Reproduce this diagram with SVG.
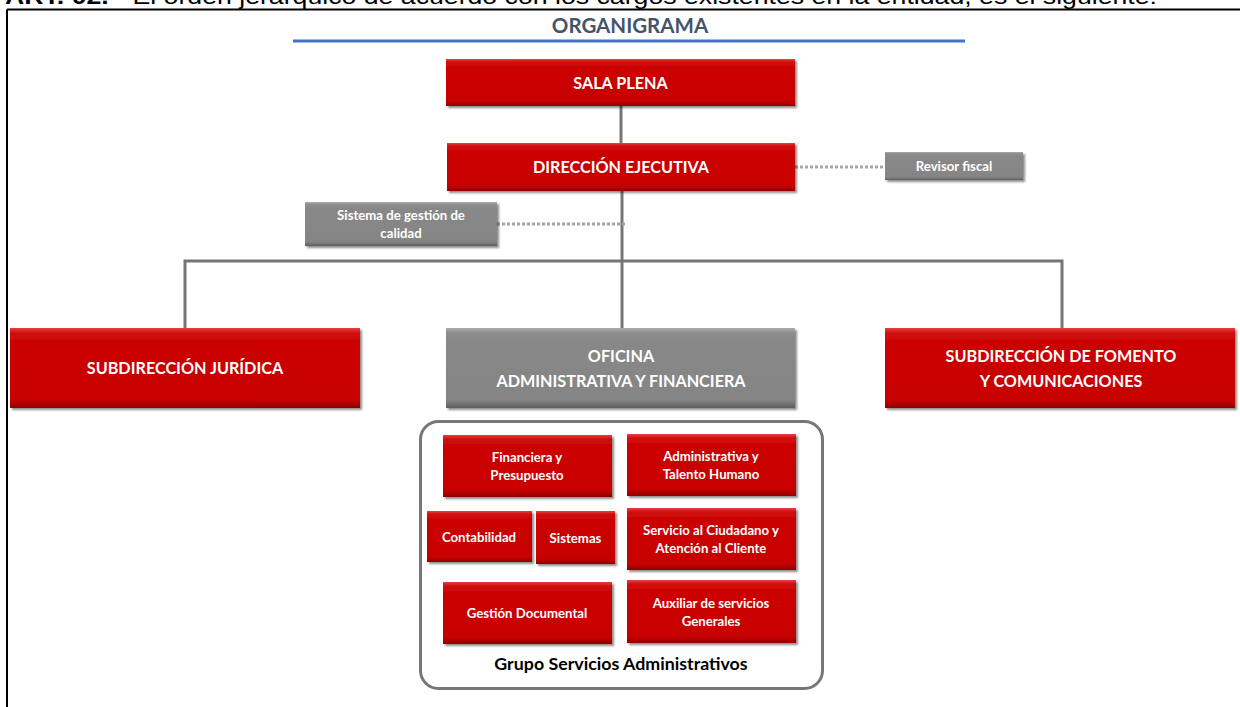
<svg xmlns="http://www.w3.org/2000/svg" width="1240" height="707" viewBox="0 0 1240 707">
<defs>
<linearGradient id="gRed" x1="0" y1="0" x2="0" y2="1">
<stop offset="0" stop-color="#E94040"/>
<stop offset="0.06" stop-color="#D01010"/>
<stop offset="0.15" stop-color="#CC0606"/>
<stop offset="0.9" stop-color="#C70505"/>
<stop offset="1" stop-color="#8E0000"/>
</linearGradient>
<linearGradient id="gGray" x1="0" y1="0" x2="0" y2="1">
<stop offset="0" stop-color="#ABABAB"/>
<stop offset="0.06" stop-color="#8E8E8E"/>
<stop offset="0.15" stop-color="#888888"/>
<stop offset="0.9" stop-color="#858585"/>
<stop offset="1" stop-color="#5E5E5E"/>
</linearGradient>
<filter id="sh" x="-5%" y="-10%" width="110%" height="130%">
<feGaussianBlur in="SourceAlpha" stdDeviation="1"/>
<feOffset dx="1.5" dy="1.5" result="b"/>
<feFlood flood-color="#000" flood-opacity="0.45"/>
<feComposite in2="b" operator="in"/>
<feMerge><feMergeNode/><feMergeNode in="SourceGraphic"/></feMerge>
</filter>
</defs>
<style>
.red{fill:url(#gRed);filter:url(#sh)}
.gray{fill:url(#gGray);filter:url(#sh)}
.t{font-family:Lato,"Open Sans","Liberation Sans",sans-serif;font-weight:bold;fill:#fff;text-anchor:middle}
.big{font-size:16.2px}
.sm{font-size:13.2px}
.ln{stroke:#767676;stroke-width:3;fill:none}
.dot{stroke:#A6A6A6;stroke-width:3;stroke-dasharray:3 2;fill:none}
</style>
<rect width="1240" height="707" fill="#fff"/>
<text x="5" y="4" font-family="Liberation Sans, Arial, sans-serif" font-size="22" fill="#000" textLength="1152" lengthAdjust="spacingAndGlyphs"><tspan font-weight="bold">ART. 02.</tspan> - El orden jerárquico de acuerdo con los cargos existentes en la entidad, es el siguiente:</text>
<path d="M7 9.5 H1240 M7 9.5 V707" stroke="#000" stroke-width="2" fill="none"/>
<text x="630" y="33" font-family="Lato,'Open Sans',sans-serif" font-weight="bold" font-size="20.5" fill="#44546A" text-anchor="middle">ORGANIGRAMA</text>
<rect x="293" y="39.5" width="672" height="3" fill="#4472C4"/>
<g id="connectors">
<path class="ln" d="M621 106 V143"/>
<path class="ln" d="M622 191 V328"/>
<path class="ln" d="M185 328 V261 H1062 V328"/>
<path class="dot" d="M795 167 H885"/>
<path class="dot" d="M497 224 H625"/>
</g>
<g id="sala-plena"><rect class="red" x="446" y="59" width="349" height="47"/><text class="t big" x="620.5" y="89">SALA PLENA</text></g>
<g id="direccion-ejecutiva"><rect class="red" x="447" y="143" width="348" height="48"/><text class="t big" x="621" y="173">DIRECCIÓN EJECUTIVA</text></g>
<g id="revisor-fiscal"><rect class="gray" x="885" y="152" width="138" height="28"/><text class="t sm" x="954" y="171">Revisor fiscal</text></g>
<g id="sistema-gestion"><rect class="gray" x="305" y="202" width="192" height="44"/><text class="t sm" x="401" y="220">Sistema de gestión de</text><text class="t sm" x="401" y="238">calidad</text></g>
<g id="subdireccion-juridica"><rect class="red" x="10" y="328" width="350" height="80"/><text class="t big" x="185" y="374">SUBDIRECCIÓN JURÍDICA</text></g>
<g id="oficina-administrativa"><rect class="gray" x="446" y="328" width="349" height="80"/><text class="t big" x="621" y="362">OFICINA</text><text class="t big" x="621" y="387">ADMINISTRATIVA Y FINANCIERA</text></g>
<g id="subdireccion-fomento"><rect class="red" x="885" y="328" width="350" height="80"/><text class="t big" x="1061" y="362">SUBDIRECCIÓN DE FOMENTO</text><text class="t big" x="1061" y="387">Y COMUNICACIONES</text></g>
<g id="grupo-servicios">
<rect x="420.5" y="421.5" width="402" height="267" rx="18" fill="#fff" stroke="#777" stroke-width="3"/>
<text x="621" y="670" font-family="Lato,'Open Sans',sans-serif" font-weight="bold" font-size="17.8" fill="#000" text-anchor="middle">Grupo Servicios Administrativos</text>
</g>
<g id="financiera"><rect class="red" x="443" y="435" width="169" height="62"/><text class="t sm" x="527" y="462">Financiera y</text><text class="t sm" x="527" y="480">Presupuesto</text></g>
<g id="administrativa"><rect class="red" x="627" y="434" width="169" height="62"/><text class="t sm" x="711" y="461">Administrativa y</text><text class="t sm" x="711" y="479">Talento Humano</text></g>
<g id="contabilidad"><rect class="red" x="427" y="511" width="105" height="51"/><text class="t sm" x="479" y="542">Contabilidad</text></g>
<g id="sistemas"><rect class="red" x="536" y="511" width="79" height="53"/><text class="t sm" x="575.5" y="543">Sistemas</text></g>
<g id="servicio-ciudadano"><rect class="red" x="627" y="508" width="169" height="62"/><text class="t sm" x="711" y="535">Servicio al Ciudadano  y</text><text class="t sm" x="711" y="553">Atención al Cliente</text></g>
<g id="gestion-documental"><rect class="red" x="443" y="582" width="169" height="62"/><text class="t sm" x="527" y="618">Gestión Documental</text></g>
<g id="auxiliar"><rect class="red" x="627" y="580" width="169" height="63"/><text class="t sm" x="711" y="608">Auxiliar de servicios</text><text class="t sm" x="711" y="626">Generales</text></g>
</svg>
